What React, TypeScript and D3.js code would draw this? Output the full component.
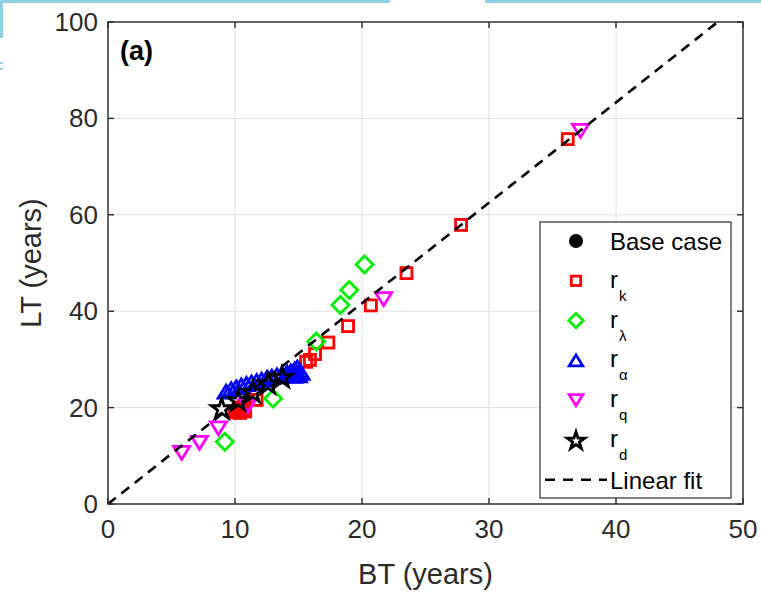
import React from "react";
import * as d3 from "d3";

// ---- data ----
const xTicks = [0, 10, 20, 30, 40, 50];
const yTicks = [0, 20, 40, 60, 80, 100];

const baseBT = [10.4];
const baseLT = [19.5];

const rkBT = [10.0, 10.2, 10.4, 10.6, 10.8, 10.3, 10.7, 11.7, 15.6, 15.9, 16.3, 17.35, 18.9, 20.7, 23.5, 27.8, 36.2];
const rkLT = [19.0, 19.4, 18.9, 19.6, 19.2, 20.0, 20.3, 21.6, 29.5, 29.9, 31.1, 33.5, 36.9, 41.2, 47.9, 57.9, 75.7];

const rlBT = [9.2, 13.0, 16.4, 18.3, 19.0, 20.2];
const rlLT = [12.9, 21.9, 33.7, 41.3, 44.4, 49.7];

const raBT = [9.3, 9.7, 10.1, 10.5, 10.9, 11.3, 11.7, 12.1, 12.5, 12.9, 13.3, 13.7, 14.1, 14.4, 14.6, 14.7, 14.8, 14.9, 15.0, 15.1, 15.2];
const raLT = [23.3, 23.8, 24.2, 24.6, 24.9, 25.2, 25.5, 25.8, 26.1, 26.4, 26.7, 27.0, 27.3, 27.5, 26.6, 27.9, 27.0, 28.3, 26.7, 27.6, 27.2];

const rqBT = [5.8, 7.2, 8.7, 11.0, 21.7, 37.2];
const rqLT = [10.6, 12.7, 15.7, 20.3, 42.5, 77.4];

const rdBT = [8.95, 10.25, 11.4, 12.6, 13.7];
const rdLT = [19.9, 21.6, 23.3, 25.1, 26.4];

const fitSlope = 2.083;
const fitBT = [0, 48];

const legendNames = ["Base case", "r", "r", "r", "r", "r", "Linear fit"];
const legendSubs = ["", "k", "λ", "α", "q", "d", ""];

// ---- layout ----
const W = 761, H = 595;
const L = 108, R = 743, T = 22, B = 504;
const FONT = "'Liberation Sans', Arial, Helvetica, sans-serif";
const AX = "#2b2b2b";

const x = d3.scaleLinear().domain([0, 50]).range([L, R]);
const y = d3.scaleLinear().domain([0, 100]).range([B, T]);

type Kind = "circle" | "square" | "diamond" | "up" | "down" | "star";

function marker(kind: Kind, cx: number, cy: number, color: string, key: string | number, scale = 1) {
  const sw = 2.8;
  if (kind === "circle") {
    return <circle key={key} cx={cx} cy={cy} r={7 * scale} fill={color} />;
  }
  if (kind === "square") {
    const s = 11 * scale;
    return <rect key={key} x={cx - s / 2} y={cy - s / 2} width={s} height={s} fill="none" stroke={color} strokeWidth={sw} />;
  }
  if (kind === "diamond") {
    const s = 8.5 * scale;
    return <path key={key} d={`M${cx},${cy - s}L${cx + s},${cy}L${cx},${cy + s}L${cx - s},${cy}Z`} fill="none" stroke={color} strokeWidth={sw} />;
  }
  if (kind === "up" || kind === "down") {
    const hw = 8 * scale, hh = 6.5 * scale;
    const d = kind === "up"
      ? `M${cx},${cy - hh}L${cx + hw},${cy + hh}L${cx - hw},${cy + hh}Z`
      : `M${cx},${cy + hh}L${cx + hw},${cy - hh}L${cx - hw},${cy - hh}Z`;
    return <path key={key} d={d} fill="none" stroke={color} strokeWidth={sw} strokeLinejoin="miter" />;
  }
  const star = d3.symbol().type(d3.symbolStar).size(130 * scale * scale)();
  return <path key={key} d={star as string} transform={`translate(${cx},${cy + 1})`} fill="none" stroke={color} strokeWidth={2.8} strokeLinejoin="miter" />;
}

const series: { bt: number[]; lt: number[]; kind: Kind; color: string }[] = [
  { bt: baseBT, lt: baseLT, kind: "circle", color: "#000000" },
  { bt: rkBT, lt: rkLT, kind: "square", color: "#ff0000" },
  { bt: rlBT, lt: rlLT, kind: "diamond", color: "#00ee00" },
  { bt: raBT, lt: raLT, kind: "up", color: "#0000ff" },
  { bt: rqBT, lt: rqLT, kind: "down", color: "#ff00ff" },
  { bt: rdBT, lt: rdLT, kind: "star", color: "#000000" },
];

export default function App() {
  const fitLine = d3.line<number>().x((v) => x(v)).y((v) => y(fitSlope * v))(fitBT) as string;
  const legX = 540, legY = 222, legW = 191, legH = 276;
  const rowY = (i: number) => 241 + i * 39.8;
  return (
    <svg width={W} height={H} style={{ position: "absolute", left: 0, top: 0, background: "#fff" }} fontFamily={FONT}>
      {/* page artifacts */}
      <rect x={0} y={0} width={390} height={3} fill="#8fd0e2" />
      <rect x={485} y={0} width={276} height={3} fill="#8fd0e2" />
      <rect x={0} y={0} width={3} height={38} fill="#8fd0e2" />
      <rect x={0} y={62} width={3} height={2} fill="#8fd0e2" />
      <rect x={0} y={68} width={3} height={2} fill="#8fd0e2" />

      {/* grid */}
      {xTicks.map((t) => (
        <line key={"gx" + t} x1={x(t)} x2={x(t)} y1={T} y2={B} stroke="#e0e0e0" strokeWidth={1} />
      ))}
      {yTicks.map((t) => (
        <line key={"gy" + t} x1={L} x2={R} y1={y(t)} y2={y(t)} stroke="#e0e0e0" strokeWidth={1} />
      ))}

      {/* data */}
      {series.map((s, si) => (
        <g key={"s" + si}>
          {s.bt.map((v, i) => marker(s.kind, x(v), y(s.lt[i]), s.color, i))}
        </g>
      ))}
      <path d={fitLine} fill="none" stroke="#000" strokeWidth={2.6} strokeDasharray="10,7" />

      {/* axes box and ticks */}
      <rect x={L} y={T} width={R - L} height={B - T} fill="none" stroke={AX} strokeWidth={1.4} />
      {xTicks.map((t) => (
        <g key={"tx" + t}>
          <line x1={x(t)} x2={x(t)} y1={B} y2={B - 6} stroke={AX} strokeWidth={1.4} />
          <line x1={x(t)} x2={x(t)} y1={T} y2={T + 6} stroke={AX} strokeWidth={1.4} />
          <text x={x(t)} y={538} textAnchor="middle" fontSize={26} fill={AX}>{t}</text>
        </g>
      ))}
      {yTicks.map((t) => (
        <g key={"ty" + t}>
          <line x1={L} x2={L + 6} y1={y(t)} y2={y(t)} stroke={AX} strokeWidth={1.4} />
          <line x1={R} x2={R - 6} y1={y(t)} y2={y(t)} stroke={AX} strokeWidth={1.4} />
          <text x={98} y={y(t) + 9} textAnchor="end" fontSize={26} fill={AX}>{t}</text>
        </g>
      ))}
      <text x={(L + R) / 2} y={584} textAnchor="middle" fontSize={29} fill={AX}>BT (years)</text>
      <text transform={`translate(41,${(T + B) / 2}) rotate(-90)`} textAnchor="middle" fontSize={29} fill={AX}>LT (years)</text>
      <text x={120} y={60} fontSize={27} fontWeight="bold" fill="#000">(a)</text>

      {/* legend */}
      <rect x={legX} y={legY} width={legW} height={legH} fill="#fff" stroke={AX} strokeWidth={1.2} />
      {legendNames.map((name, i) => {
        const cy = rowY(i);
        const s = series[i];
        return (
          <g key={"lg" + i}>
            {i < 6
              ? marker(s.kind, 576, cy, s.color, "m", i === 0 ? 1.0 : 0.85)
              : <line x1={545} x2={607} y1={cy} y2={cy} stroke="#000" strokeWidth={2.6} strokeDasharray="10,8" />}
            {legendSubs[i] ? (
              <text x={610} y={cy + 7} fontSize={24} fill="#000">
                {name}
                <tspan dx={1} dy={13} fontSize={15}>{legendSubs[i]}</tspan>
              </text>
            ) : (
              <text x={610} y={cy + 9} fontSize={24} fill="#000">{name}</text>
            )}
          </g>
        );
      })}
    </svg>
  );
}
